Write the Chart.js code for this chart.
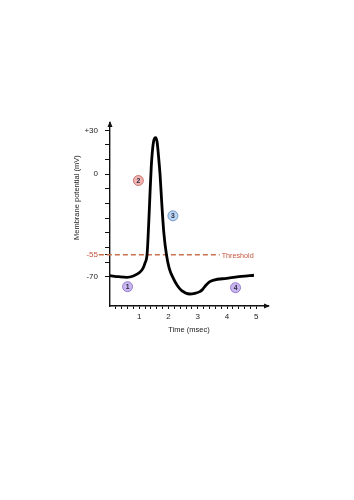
<!DOCTYPE html>
<html>
<head>
  <title>Action Potential</title>
  <style>
    body {
      margin: 0;
      background: #fff;
    }
    #wrap {
      width: 354px;
      height: 500px;
    }
  </style>
</head>
<body>

  <div id="wrap">
    <canvas id="apChart" width="354" height="500"></canvas>
  </div>

  <script src="https://cdn.jsdelivr.net/npm/chart.js"></script>

  <script>
    // membrane potential curve (time in msec, potential in mV)
    const timeMs = [0, 0.3, 0.57, 0.8, 1.02, 1.12, 1.19, 1.27, 1.32, 1.37, 1.41, 1.46, 1.51, 1.56, 1.61, 1.66, 1.71, 1.77, 1.84, 1.93, 2.02, 2.16, 2.3, 2.45, 2.73, 2.9, 3.07, 3.17, 3.27, 3.4, 3.55, 3.98, 4.5, 4.92];
    const potentialMv = [-69.3, -70, -70.4, -69.5, -67, -64.5, -61, -54, -35, -12, 5, 18, 24, 25, 22, 12, 0, -20, -40, -55, -64, -71, -76, -79.5, -81.8, -81.3, -80.2, -78.5, -76, -73.5, -72.3, -71.1, -69.8, -69];

    // numbered phase markers
    const phaseLabels = ["1", "2", "3", "4"];
    const phaseTime = [0.6, 0.97, 2.15, 4.29];
    const phaseMv = [-76.8, -4.3, -28.4, -77.5];
    const phaseFill = ["#c9b6ef", "#f2b4b1", "#bad6f3", "#c9b6ef"];
    const phaseEdge = ["#8367c4", "#c0625d", "#5a86bd", "#8367c4"];

    // threshold line
    const thresholdMv = -55;
    const thresholdSpan = [-0.38, 3.75];

    // axis ticks
    const yTicks = [30, 20, 10, 0, -10, -20, -30, -40, -50, -55, -60, -70];
    const yLabels = { "30": "+30", "0": "0", "-55": "-55", "-70": "-70" };
    const xTicks = [0.2, 0.4, 0.6, 0.8, 1, 1.2, 1.4, 1.6, 1.8, 2, 2.2, 2.4, 2.6, 2.8, 3, 3.2, 3.4, 3.6, 3.8, 4, 4.2, 4.4, 4.6, 4.8, 5];

    const red = "#c4553d";
    const FONT = "'Liberation Sans', Arial, sans-serif";

    const curve = timeMs.map((t, i) => ({ x: t, y: potentialMv[i] }));
    const phases = phaseTime.map((t, i) => ({ x: t, y: phaseMv[i] }));
    const threshold = thresholdSpan.map(t => ({ x: t, y: thresholdMv }));

    // arrows, y title, threshold label, marker numbers
    const decor = {
      id: 'decor',
      afterDraw(chart) {
        const { ctx, chartArea, scales } = chart;
        const x = scales.x, y = scales.y;
        ctx.save();
        ctx.fillStyle = '#111';
        // y arrow
        ctx.beginPath();
        ctx.moveTo(chartArea.left, chartArea.top - 2);
        ctx.lineTo(chartArea.left - 2.5, chartArea.top + 4);
        ctx.lineTo(chartArea.left + 2.5, chartArea.top + 4);
        ctx.fill();
        // x arrow
        ctx.beginPath();
        ctx.moveTo(chartArea.right + 2, chartArea.bottom);
        ctx.lineTo(chartArea.right - 4, chartArea.bottom - 2.5);
        ctx.lineTo(chartArea.right - 4, chartArea.bottom + 2.5);
        ctx.fill();

        // y title
        ctx.fillStyle = '#222';
        ctx.font = '7.5px ' + FONT;
        ctx.textAlign = 'center';
        ctx.textBaseline = 'middle';
        ctx.translate(77, y.getPixelForValue(-16));
        ctx.rotate(-Math.PI / 2);
        ctx.fillText('Membrane potential (mV)', 0, 0);
        ctx.setTransform(1, 0, 0, 1, 0, 0);

        // threshold label
        ctx.fillStyle = red;
        ctx.font = '7.2px ' + FONT;
        ctx.textAlign = 'left';
        ctx.fillText('Threshold', x.getPixelForValue(thresholdSpan[1]) + 2, y.getPixelForValue(thresholdMv) + 1);

        // numbers inside markers
        const meta = chart.getDatasetMeta(1);
        ctx.fillStyle = '#2c2c44';
        ctx.font = 'bold 6.8px ' + FONT;
        ctx.textAlign = 'center';
        meta.data.forEach((pt, i) => {
          ctx.fillText(phaseLabels[i], pt.x, pt.y + 0.5);
        });
        ctx.restore();
      }
    };

    const ctx = document.getElementById('apChart').getContext('2d');
    new Chart(ctx, {
      type: 'line',
      data: {
        datasets: [
          {
            label: 'Membrane potential',
            data: curve,
            borderColor: '#000',
            borderWidth: 2.8,
            pointRadius: 0,
            cubicInterpolationMode: 'monotone',
            clip: false
          },
          {
            type: 'scatter',
            label: 'Phases',
            data: phases,
            pointRadius: 5,
            pointBorderWidth: 0.8,
            pointBackgroundColor: phaseFill,
            pointBorderColor: phaseEdge,
            clip: false
          },
          {
            label: 'Threshold',
            data: threshold,
            borderColor: '#c9714f',
            borderWidth: 1.3,
            borderDash: [5, 3],
            pointRadius: 0,
            clip: false
          }
        ]
      },
      options: {
        responsive: false,
        animation: false,
        layout: {
          padding: { top: 123, right: 86, bottom: 0, left: 0 }
        },
        plugins: {
          legend: { display: false },
          tooltip: { enabled: false }
        },
        scales: {
          x: {
            type: 'linear',
            position: 'bottom',
            min: 0,
            max: 5.4,
            afterBuildTicks: scale => {
              scale.ticks = xTicks.map(v => ({ value: v }));
            },
            afterFit: scale => {
              scale.height = 194;
            },
            grid: { drawOnChartArea: false, drawTicks: true, tickLength: 3, color: '#111', lineWidth: 1 },
            border: { color: '#111', width: 1.4 },
            ticks: {
              autoSkip: false,
              maxRotation: 0,
              padding: 3,
              color: '#222',
              font: { family: FONT, size: 8 },
              callback: v => Math.abs(v - Math.round(v)) < 1e-6 ? String(Math.round(v)) : ''
            },
            title: {
              display: true,
              text: 'Time (msec)',
              color: '#222',
              font: { family: FONT, size: 7.5 },
              padding: { top: 0, bottom: 165.5 }
            }
          },
          y: {
            min: -90,
            max: 35,
            afterBuildTicks: scale => {
              scale.ticks = yTicks.map(v => ({ value: v }));
            },
            afterFit: scale => {
              scale.width = 110;
            },
            grid: { drawOnChartArea: false, drawTicks: true, tickLength: 5, color: '#111', lineWidth: 1 },
            border: { color: '#111', width: 1.4 },
            ticks: {
              autoSkip: false,
              padding: 7,
              color: c => c.tick.value === -55 ? red : '#222',
              font: { family: FONT, size: 8 },
              callback: v => yLabels[String(v)] || ''
            }
          }
        }
      },
      plugins: [decor]
    });
  </script>

</body>
</html>
